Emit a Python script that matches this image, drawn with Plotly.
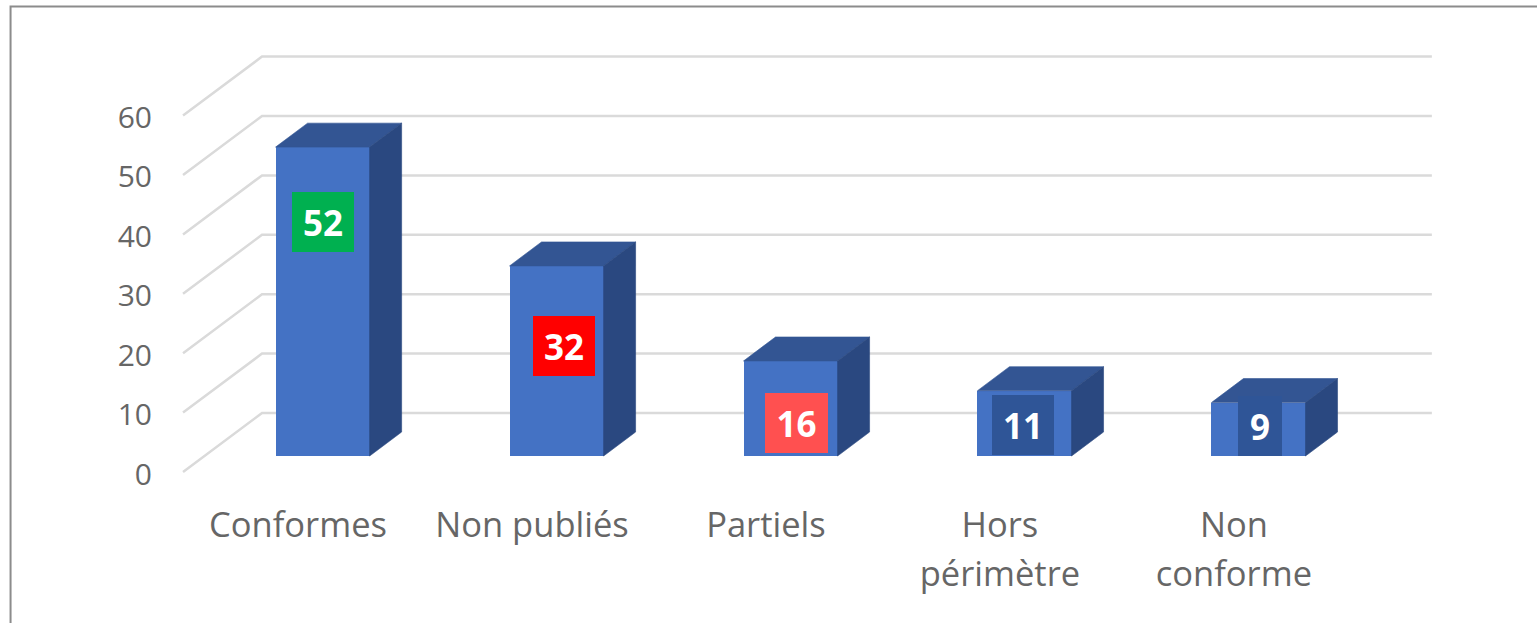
import plotly.graph_objects as go

categories = ["Conformes", "Non publiés", "Partiels", "Hors<br>périmètre", "Non<br>conforme"]
values = [52, 32, 16, 11, 9]
y_ticks = [0, 10, 20, 30, 40, 50, 60]
label_colors = ["#00B050", "#FF0000", "#FF5050", "#2F5597", "#2F5597"]
label_widths = [62, 62, 63, 62, 44]
label_x = [0.107, 1.137, 2.132, 3.098, 4.111]
label_y = [42.1, 21.2, 8.25, 7.9, 7.7]

FRONT, TOP, SIDE = "#4472C4", "#335593", "#2A4880"
GRID = "#DADADA"
TEXT = "#666666"
FONT = "Open Sans"

# depth projection, in axis units
WALL_DX, WALL_DY = 0.3376, 9.93
BAR_X, BAR_BASE = 0.105, 2.69
BAR_W, BAR_DX, BAR_DY = 0.402, 0.1368, 4.04
X_LEFT, X_RIGHT = -0.4915, 4.846

positions = list(range(len(categories)))
fig = go.Figure()

# front faces
fig.add_trace(go.Bar(
    x=[p + BAR_X for p in positions], y=values, base=BAR_BASE, width=BAR_W,
    marker=dict(color=FRONT, line=dict(width=0)), hoverinfo="skip", showlegend=False,
))

# top and side faces
for p, v in zip(positions, values):
    l = p + BAR_X - BAR_W / 2
    r = p + BAR_X + BAR_W / 2
    t = BAR_BASE + v
    fig.add_trace(go.Scatter(
        x=[l, r, r + BAR_DX, l + BAR_DX, l], y=[t, t, t + BAR_DY, t + BAR_DY, t],
        mode="lines", fill="toself", fillcolor=TOP, line=dict(width=0.6, color=TOP),
        hoverinfo="skip", showlegend=False,
    ))
    fig.add_trace(go.Scatter(
        x=[r, r + BAR_DX, r + BAR_DX, r, r],
        y=[BAR_BASE, BAR_BASE + BAR_DY, t + BAR_DY, t, BAR_BASE],
        mode="lines", fill="toself", fillcolor=SIDE, line=dict(width=0.6, color=SIDE),
        hoverinfo="skip", showlegend=False,
    ))

shapes = []
for tick in y_ticks:
    xb, yb = X_LEFT + WALL_DX, tick + WALL_DY
    shapes.append(dict(
        type="path", xref="x", yref="y", layer="below",
        path=f"M {X_LEFT},{tick} L {xb},{yb} L {X_RIGHT},{yb}",
        line=dict(color=GRID, width=2.5),
    ))
# outer frame of the picture (fractions of the plot area)
shapes.append(dict(
    type="path", xref="paper", yref="paper", layer="above",
    path="M -0.1330,-0.3326 L -0.1330,1.1012 L 1.0795,1.1012",
    line=dict(color="#8C8C8C", width=2),
))

annotations = [
    dict(
        x=x, y=y, xref="x", yref="y", text=f"<b>{v}</b>", showarrow=False,
        width=w, height=60, bgcolor=c, borderpad=0, borderwidth=0,
        align="center", valign="middle",
        font=dict(family=FONT, size=35, color="white"),
    )
    for x, y, v, w, c in zip(label_x, label_y, values, label_widths, label_colors)
]

tick_text = [
    "<br>".join(f"<span style='font-size:34.5px'>{part}</span>" for part in c.split("<br>"))
    for c in categories
]

fig.update_layout(
    width=1537, height=623, autosize=False,
    margin=dict(l=178, r=100, t=50, b=143, pad=0),
    paper_bgcolor="white", plot_bgcolor="white",
    showlegend=False, bargap=0, shapes=shapes, annotations=annotations,
    xaxis=dict(
        range=[-0.513, 4.868], tickmode="array", tickvals=positions, ticktext=tick_text,
        showgrid=False, zeroline=False, showline=False,
        ticks="outside", ticklen=11, tickcolor="rgba(0,0,0,0)",
        tickangle=0, tickfont=dict(family=FONT, size=37.7, color=TEXT),
    ),
    yaxis=dict(
        range=[-1.347, 71.04], tickmode="array", tickvals=y_ticks,
        showgrid=False, zeroline=False, showline=False,
        ticks="outside", ticklen=19, tickcolor="rgba(0,0,0,0)", ticklabelshift=2,
        tickfont=dict(family=FONT, size=30, color=TEXT),
    ),
)

fig.write_html(
    "out.html",
    config=dict(displayModeBar=False),
    post_script="document.body.style.margin='0';document.body.style.overflow='hidden';",
)
